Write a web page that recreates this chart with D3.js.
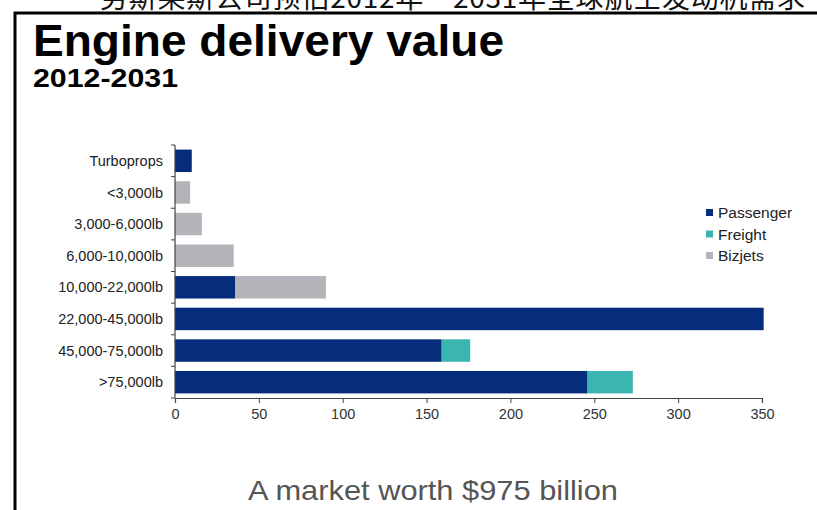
<!DOCTYPE html>
<html><head><meta charset="utf-8">
<script src="https://cdn.jsdelivr.net/npm/d3@7"></script>
<style>body{margin:0;background:#fff;}svg{display:block;}</style>
</head><body>
<svg id="c" width="817" height="510"></svg>
<script>
const categories = ["Turboprops","<3,000lb","3,000-6,000lb","6,000-10,000lb","10,000-22,000lb","22,000-45,000lb","45,000-75,000lb",">75,000lb"];
const passenger = [10, 0, 0, 0, 36, 351, 159, 246];
const freight   = [0, 0, 0, 0, 0, 0, 17, 27];
const bizjets   = [0, 9, 16, 35, 54, 0, 0, 0];
const seriesNames = ["Passenger","Freight","Bizjets"];
const xTicks = [0,50,100,150,200,250,300,350];
const colors = {Passenger:"#062d7c", Freight:"#3bb5b0", Bizjets:"#b3b3b9"};

const svg = d3.select("#c");
const font = "Arial, 'Liberation Sans', sans-serif";

// top clipped Chinese caption
svg.append("text").attr("x",100).attr("y",8).attr("font-family","'Noto Sans CJK SC'")
  .attr("font-size",28).attr("fill","#111").attr("textLength",705).attr("lengthAdjust","spacing")
  .text("劳斯莱斯公司预估2012年－2031年全球航空发动机需求");
// frame
svg.append("path").attr("d","M15,510 V13 H817").attr("fill","none").attr("stroke","#000").attr("stroke-width",3);

svg.append("text").attr("x",33).attr("y",56).attr("font-family",font).attr("font-weight","bold")
  .attr("font-size",45).attr("fill","#000").attr("textLength",471).attr("lengthAdjust","spacingAndGlyphs")
  .text("Engine delivery value");
svg.append("text").attr("x",33).attr("y",87).attr("font-family",font).attr("font-weight","bold")
  .attr("font-size",26).attr("fill","#000").attr("textLength",145).attr("lengthAdjust","spacingAndGlyphs")
  .text("2012-2031");

const x = d3.scaleLinear().domain([0,350]).range([175,762]);
const y = d3.scaleBand().domain(categories).range([145,398]).paddingInner(0.29).paddingOuter(0.145);

const rows = categories.map((c,i)=>({cat:c, Passenger:passenger[i], Freight:freight[i], Bizjets:bizjets[i]}));
const stack = d3.stack().keys(seriesNames)(rows);

svg.append("g").selectAll("g").data(stack).join("g").attr("fill",d=>colors[d.key])
  .selectAll("rect").data(d=>d).join("rect")
  .attr("x",d=>x(d[0])).attr("width",d=>Math.max(0,x(d[1])-x(d[0])))
  .attr("y",d=>y(d.data.cat)).attr("height",y.bandwidth());

// x axis
const xa = svg.append("g").attr("transform","translate(0,398)")
  .call(d3.axisBottom(x).tickValues(xTicks).tickSize(5).tickPadding(6));
xa.select(".domain").attr("stroke","#444").attr("stroke-width",1.2);
xa.selectAll(".tick line").attr("stroke","#444");
xa.selectAll("text").attr("font-family",font).attr("font-size",14.5).attr("fill","#333");

// y axis
svg.append("line").attr("x1",175).attr("x2",175).attr("y1",145).attr("y2",398).attr("stroke","#444").attr("stroke-width",1.2);
const bounds = categories.map(c=>y(c)-y.step()*y.paddingInner()/2).concat([398]);
svg.append("g").selectAll("line").data(bounds).join("line")
  .attr("x1",171).attr("x2",175).attr("y1",d=>d).attr("y2",d=>d).attr("stroke","#444");
svg.append("g").selectAll("text").data(categories).join("text")
  .attr("x",163).attr("y",c=>y(c)+y.bandwidth()/2).attr("dy","0.35em").attr("text-anchor","end")
  .attr("font-family",font).attr("font-size",14.5).attr("fill","#222").text(c=>c);

// legend
const lg = svg.append("g").selectAll("g").data(seriesNames).join("g")
  .attr("transform",(d,i)=>`translate(706,${213+i*21.5})`);
lg.append("rect").attr("x",0).attr("y",-4).attr("width",7).attr("height",7).attr("fill",d=>colors[d]);
lg.append("text").attr("x",12).attr("y",0).attr("dy","0.35em").attr("font-family",font)
  .attr("font-size",15.5).attr("fill","#222").text(d=>d);

svg.append("text").attr("x",433).attr("y",500).attr("text-anchor","middle").attr("font-family",font)
  .attr("font-size",28).attr("fill","#555").attr("textLength",370).attr("lengthAdjust","spacingAndGlyphs")
  .text("A market worth $975 billion");
</script>
</body></html>
